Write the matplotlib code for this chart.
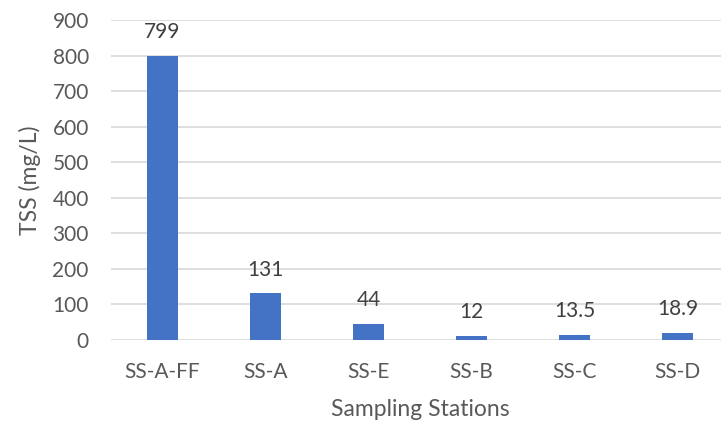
import matplotlib
matplotlib.use("Agg")
import matplotlib.pyplot as plt

# TSS per sampling station
stations = ["SS-A-FF", "SS-A", "SS-E", "SS-B", "SS-C", "SS-D"]
tss = [799, 131, 44, 12, 13.5, 18.9]
tss_labels = ["799", "131", "44", "12", "13.5", "18.9"]
y_ticks = [0, 100, 200, 300, 400, 500, 600, 700, 800, 900]

plt.rcParams["font.family"] = ["Lato", "DejaVu Sans"]

W, H = 721, 425
fig = plt.figure(figsize=(W / 100, H / 100), dpi=100)
# plot area: 0 at y=340px, 900 at y=20px, category slots 103px wide starting x=111
ax = fig.add_axes([111 / W, (H - 340) / H, 618 / W, 320 / H])

x = list(range(len(stations)))
ax.bar(x, tss, width=0.31, color="#4472C4", zorder=3)
for xi, v, lab in zip(x, tss, tss_labels):
    ax.annotate(lab, (xi, v), xytext=(0, 10), textcoords="offset points",
                ha="center", va="bottom", fontsize=15, color="#404040")

ax.set_xlim(-0.5, 5.5)
ax.set_ylim(0, 900)
ax.set_yticks(y_ticks)
ax.set_xticks(x)
ax.set_xticklabels(stations)
ax.grid(axis="y", color="#D9D9D9", lw=1.2, zorder=0)
ax.tick_params(axis="both", length=0, labelsize=15, colors="#595959")
ax.tick_params(axis="x", pad=16)
ax.tick_params(axis="y", pad=16)
for s in ax.spines.values():
    s.set_visible(False)

ax.set_ylabel("TSS (mg/L)", fontsize=16.5, color="#595959", labelpad=8)
fig.text(420 / W, 1 - 410 / H, "Sampling Stations", ha="center", va="center",
         fontsize=16.5, color="#595959")

fig.savefig("out.png", dpi=100)
